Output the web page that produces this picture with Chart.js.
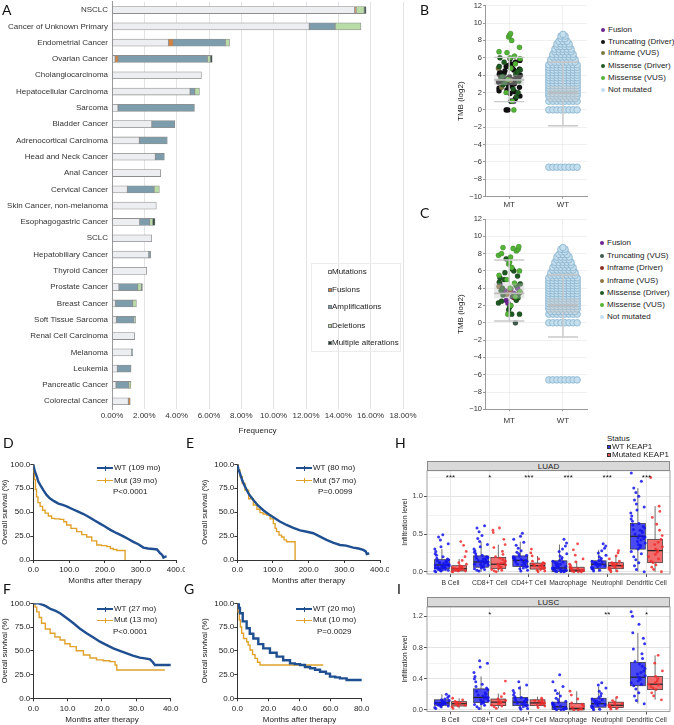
<!DOCTYPE html>
<html lang="en">
<head>
<meta charset="UTF-8">
<title>KEAP1 alterations across cancers</title>
<script src="https://cdn.jsdelivr.net/npm/chart.js"></script>
<style>
  body { margin: 0; background: #fff; }
  #fig { position: relative; width: 674px; height: 725px; overflow: hidden; font-family: "Liberation Sans", Arial, sans-serif; }
  canvas { position: absolute; }
  .tag { position: absolute; font-family: Lato, "Open Sans", sans-serif; font-size: 14px; color: #111; line-height: 1; }
  .lg { position: absolute; font-size: 8px; color: #222; line-height: 1; white-space: nowrap; transform: translateY(-50%); }
  .sw { position: absolute; }
  .strip { position: absolute; background: #d9d9d9; border: 0.8px solid #8a8a8a; box-sizing: border-box;
           font-size: 8px; color: #222; text-align: center; }
</style>
</head>
<body>
<div id="fig"></div>
<script>
// ---- A: alteration frequency by cancer type (%)
const cancerTypes = ['NSCLC', 'Cancer of Unknown Primary', 'Endometrial Cancer', 'Ovarian Cancer', 'Cholangiocarcinoma',
  'Hepatocellular Carcinoma', 'Sarcoma', 'Bladder Cancer', 'Adrenocortical Carcinoma', 'Head and Neck Cancer',
  'Anal Cancer', 'Cervical Cancer', 'Skin Cancer, non-melanoma', 'Esophagogastric Cancer', 'SCLC',
  'Hepatobiliary Cancer', 'Thyroid Cancer', 'Prostate Cancer', 'Breast Cancer', 'Soft Tissue Sarcoma',
  'Renal Cell Carcinoma', 'Melanoma', 'Leukemia', 'Pancreatic Cancer', 'Colorectal Cancer'];
const mutations      = [15.0, 12.2, 3.49, 0.19, 5.53, 4.83, 0.37, 2.46, 1.69, 2.68, 3.01, 0.95, 2.74, 1.71, 2.46, 2.27, 2.15, 0.43, 0.21, 0.27, 1.40, 1.22, 0.33, 0.25, 1.01];
const fusions        = [0.10, 0, 0.29, 0.19, 0, 0, 0, 0, 0, 0, 0, 0, 0, 0, 0, 0, 0, 0, 0, 0, 0, 0, 0, 0, 0.12];
const amplifications = [0, 1.6, 3.24, 5.53, 0, 0.29, 4.73, 1.42, 1.73, 0.56, 0, 1.65, 0, 0.62, 0, 0.12, 0, 1.16, 1.07, 1.09, 0, 0.06, 0.85, 0.78, 0];
const deletions      = [0.50, 1.6, 0.25, 0.17, 0, 0.29, 0, 0, 0, 0, 0, 0.33, 0, 0.19, 0, 0, 0, 0.23, 0.23, 0.10, 0, 0, 0, 0.14, 0];
const multiple       = [0.12, 0, 0, 0.12, 0, 0, 0, 0, 0, 0, 0, 0, 0, 0.14, 0, 0, 0, 0.06, 0, 0, 0, 0, 0, 0, 0];
const altNames = ['Mutations', 'Fusions', 'Amplifications', 'Deletions', 'Multiple alterations'];

// ---- B / C: TMB (log2), MT column by alteration class, WT as rows [value, count]
const mtLabelsB = ['Fusion', 'Truncating (Driver)', 'Inframe (VUS)', 'Missense (Driver)', 'Missense (VUS)'];
const mtValuesB = [
  [4.3, 3.9, 3.2, 1.0, 1.0],
  [0, 0, 1.0, 1.3, 1.6, 1.9, 2.1, 2.3, 2.5, 2.6, 2.8, 2.9, 3.0, 3.1, 3.2, 3.3, 3.4, 3.5, 3.5, 3.6, 3.7, 3.8, 3.9, 4.0, 4.0,
   4.1, 4.2, 4.3, 4.4, 4.5, 4.6, 4.8, 5.0, 5.1, 5.3, 5.5, 5.7, 5.9, 3.0, 3.6, 2.2, 4.7, 3.3, 2.7, 3.8],
  [3.4, 4.8, 2.6],
  [1.5, 2.0, 2.4, 2.9, 3.3, 3.6, 3.9, 4.2, 4.6, 5.0, 5.5, 6.0, 4.4, 3.1],
  [0, 1.0, 2.0, 3.5, 4.8, 5.3, 5.9, 6.0, 6.2, 6.6, 6.7, 7.2, 8.0, 8.4, 8.6, 8.8]
];
const mtLabelsC = ['Fusion', 'Truncating (VUS)', 'Inframe (Driver)', 'Inframe (VUS)', 'Missense (Driver)', 'Missense (VUS)'];
const mtValuesC = [
  [4.5, 4.0, 3.7, 3.4, 3.0, 2.6, 2.3, 3.9],
  [0],
  [3.5, 3.8, 2.9],
  [3.3, 4.2],
  [1.0, 1.0, 1.5, 1.8, 2.0, 2.3, 2.5, 2.6, 2.9, 3.1, 3.2, 3.4, 3.7, 4.0, 4.3, 4.5, 4.7, 5.0, 5.2, 5.4, 5.8, 6.0, 6.2, 7.4],
  [1.0, 2.0, 3.0, 3.6, 4.0, 4.6, 5.0, 5.5, 6.0, 6.4, 6.8, 7.0, 7.6, 7.8, 8.0, 8.3, 8.5, 8.6, 8.7, 8.8]
];
const wtRows = [[-6.6, 8], [0, 8], [1.0, 8], [1.3, 7], [1.6, 8], [1.9, 8], [2.2, 8], [2.5, 8], [2.8, 8], [3.1, 8],
  [3.4, 8], [3.7, 8], [4.0, 8], [4.3, 8], [4.6, 8], [4.9, 8], [5.2, 8], [5.5, 7], [5.8, 7], [6.1, 6], [6.4, 6],
  [6.7, 5], [7.0, 5], [7.3, 4], [7.6, 4], [7.9, 3], [8.2, 2], [8.5, 2], [8.7, 1]];
// box stats [q1, median, q3, low whisker, high whisker]
const tmbBoxB = [[2.85, 3.45, 4.05, 0.95, 6.05], [0.98, 2.0, 2.72, -1.82, 5.52]];
const tmbBoxC = [[2.82, 3.4, 4.56, 0.2, 7.26], [1.09, 2.0, 2.82, -1.65, 5.56]];

// ---- D-G: Kaplan-Meier, months / survival %
const dWtT = [0, 2, 5, 10, 14, 20, 28, 37, 46, 58, 70, 82, 93, 110, 125, 140, 155, 170, 186, 200, 215, 233, 250, 265, 279, 293, 307, 320, 335, 345, 353, 360, 363, 368, 372];
const dWtS = [100, 96, 92, 87, 82, 78, 73, 68, 64.5, 61.5, 59, 57.5, 56, 53, 50.5, 48, 45, 41.5, 38, 35, 31.5, 28, 25, 22, 19, 16.5, 13, 12, 11.5, 11, 7.5, 5, 2.5, 3.5, 3.5];
const dMutT = [0, 1, 3, 6, 9, 13, 19, 26, 33, 42, 51, 60, 74, 85, 93, 105, 121, 135, 149, 163, 177, 190, 205, 215, 223, 233, 256, 256];
const dMutS = [100, 92, 84, 74, 66, 60, 56, 52, 49, 46, 43.5, 43, 42.5, 40, 36.6, 33, 29.6, 26.5, 24, 20, 15.7, 15, 14, 12, 11, 10, 10, 0];
const eWtT = [0, 3, 7.5, 14, 21.5, 32, 45, 58, 73, 87, 101, 118, 138, 157, 176, 195, 213, 232, 250, 270, 288, 305, 325, 340, 353, 360, 363, 370];
const eWtS = [100, 95, 90.6, 83, 76.7, 69, 62.7, 57, 52, 48, 44.6, 40.5, 36.6, 33.5, 31, 29.5, 28, 24.5, 21, 18, 15.7, 15, 13, 12, 10.5, 9, 6.3, 7];
const eMutT = [0, 3, 7.5, 14, 21.5, 32, 45, 55, 63.6, 72, 82, 92, 101, 106, 110, 117, 124, 131, 138, 150, 162, 162];
const eMutS = [100, 94, 87, 80, 73, 64, 57.5, 53, 49.5, 48, 47, 43, 38, 33, 29.6, 26, 24, 21, 19, 19, 19, 0];
const fWtT = [0, 1.5, 3, 3.9, 5, 6.5, 7.8, 9.5, 11.7, 13.5, 15.5, 17.5, 19.4, 21.4, 23.3, 25.2, 27.2, 29, 31, 32.5, 34, 34.8, 35.4, 37, 39.3, 40.3];
const fWtS = [100, 100, 98, 96.5, 94, 92, 89.5, 85, 79, 73.5, 68.4, 64, 59.6, 56, 52.6, 50, 47.4, 45, 42.8, 42, 41, 38, 35, 35, 35, 35];
const fMutT = [0, 0.5, 1, 1.7, 2.4, 3.5, 4.9, 6.3, 7.8, 9.2, 10.7, 12.5, 14.6, 16.5, 18.4, 20.3, 22.3, 23.8, 24.3, 30, 36.9, 38.3];
const fMutS = [100, 96, 91, 85, 79, 73, 68.4, 64.5, 61.4, 57.5, 54.4, 50, 45.6, 42.5, 40.4, 39.5, 38.6, 35, 29.8, 29.8, 29.8, 29.8];
const gWtT = [0, 1, 1.7, 3.5, 6, 8, 10.3, 13.5, 16.7, 21, 25.3, 29.5, 33.9, 37, 40.3, 43.5, 46.8, 50, 53.2, 55.5, 57, 59.6, 63, 66, 70.3, 74, 78.9, 80];
const gWtS = [100, 95, 89.5, 81, 73.7, 68, 63, 57, 52.6, 48, 43.9, 40, 36.8, 36, 35, 33, 31.6, 30, 28, 28, 26, 22.8, 22, 21, 19.3, 19.3, 19.3, 20.5];
const gMutT = [0, 0.5, 1.3, 2, 2.8, 4, 6, 7, 8.2, 9.8, 11.4, 13, 14.6, 30, 45, 55.3];
const gMutS = [100, 91, 82.5, 75, 68.4, 63, 59.6, 56, 50.9, 46, 42, 38, 35, 35, 35, 35];

// ---- H / I: infiltration level (x100) per cell type
const cellTypes = ['B Cell', 'CD8+T Cell', 'CD4+T Cell', 'Macrophage', 'Neutrophil', 'Dendritic Cell'];
const luadWt = [
  [0, 1, 1, 2, 2, 3, 3, 4, 4, 5, 5, 6, 6, 7, 7, 8, 8, 9, 9, 10, 10, 11, 12, 13, 14, 15, 16, 17, 18, 20, 22, 24, 27, 30, 33, 37, 42, 46, 49, 12, 6, 3, 9],
  [1, 2, 3, 4, 5, 6, 7, 8, 9, 10, 11, 12, 13, 13, 14, 15, 16, 17, 18, 19, 20, 21, 22, 24, 26, 28, 30, 33, 36, 40, 44, 48, 53, 58, 61, 10, 14, 17],
  [1, 2, 4, 5, 6, 7, 8, 9, 10, 11, 12, 13, 14, 15, 15, 16, 17, 18, 19, 20, 21, 22, 24, 26, 28, 31, 35, 39, 43, 47, 51, 13, 16],
  [0, 0, 0, 1, 1, 2, 2, 3, 3, 4, 4, 5, 5, 6, 7, 8, 9, 10, 11, 12, 13, 14, 15, 17, 19, 21, 24, 27, 30, 34, 38, 43, 2, 6],
  [1, 2, 3, 4, 5, 6, 7, 8, 9, 10, 10, 11, 12, 13, 14, 15, 16, 18, 20, 22, 25, 28, 31, 34, 37, 9, 12],
  [0, 3, 8, 12, 16, 20, 24, 27, 30, 32, 34, 36, 38, 40, 42, 44, 46, 47, 48, 50, 52, 54, 56, 58, 60, 62, 64, 67, 70, 74, 78, 82, 86, 90, 95, 100, 105, 111, 120, 131, 45, 55, 35]
];
const luadMut = [
  [0, 0, 1, 1, 2, 2, 3, 3, 4, 4, 5, 5, 6, 7, 8, 10, 12, 15, 20, 27, 35, 40],
  [0, 1, 2, 3, 4, 5, 6, 8, 9, 10, 11, 12, 14, 16, 18, 20, 23, 27, 32, 36, 43, 52, 58, 55],
  [0, 1, 2, 3, 4, 5, 6, 7, 8, 8, 9, 10, 11, 12, 14, 17, 21, 25, 30],
  [0, 0, 0, 1, 1, 2, 2, 3, 4, 5, 6, 8, 10, 13, 17, 22, 29, 37],
  [0, 1, 2, 3, 4, 5, 6, 7, 8, 9, 10, 11, 12, 14, 17, 21, 25, 28],
  [0, 3, 6, 9, 12, 14, 17, 20, 23, 26, 28, 30, 33, 36, 39, 43, 48, 55, 63, 72, 80, 87, 125]
];
const luscWt = [
  [2, 3, 4, 5, 6, 6, 7, 7, 8, 8, 9, 9, 10, 10, 11, 12, 13, 14, 16, 18, 20],
  [2, 4, 6, 7, 8, 9, 10, 11, 12, 13, 14, 15, 16, 17, 18, 19, 20, 22, 24, 26, 28, 30, 33, 36, 40, 43, 48, 55, 60, 63],
  [1, 2, 3, 4, 5, 6, 7, 8, 9, 10, 11, 12, 13, 14, 15, 16, 17, 19, 22, 25, 28, 32, 36],
  [0, 0, 1, 1, 2, 2, 3, 4, 5, 6, 7, 8, 9, 10, 11, 13, 15, 18, 21, 25, 30, 36, 45],
  [0, 1, 2, 3, 4, 5, 6, 7, 8, 9, 10, 11, 12, 13, 14, 16, 18, 21, 24, 28, 32, 35],
  [8, 12, 18, 22, 27, 31, 33, 35, 37, 39, 41, 42, 44, 46, 48, 50, 53, 56, 59, 62, 66, 72, 78, 85, 92, 99, 110, 120, 126]
];
const luscMut = [
  [2, 4, 5, 6, 7, 8, 9, 10, 11, 13, 15],
  [2, 4, 5, 6, 8, 9, 10, 11, 12, 14, 17, 21, 37],
  [3, 5, 6, 7, 8, 9, 10, 11, 12, 13, 15],
  [0, 0, 1, 2, 3, 5, 7, 9, 14, 19, 24],
  [1, 2, 3, 4, 5, 6, 7, 8, 10, 12, 16],
  [13, 18, 22, 26, 28, 30, 32, 33, 35, 37, 40, 43, 50, 60, 70]
];
const luadWtBox  = [[.04, .09, .16, 0, .30], [.06, .13, .21, 0, .40], [.07, .15, .21, 0, .40], [0, .05, .145, 0, .36], [.045, .10, .145, 0, .29], [.30, .47, .64, 0, 1.11]];
const luadMutBox = [[.01, .04, .08, 0, .17], [.045, .10, .19, 0, .36], [.035, .08, .115, 0, .21], [0, .02, .06, 0, .14], [.04, .08, .12, 0, .21], [.12, .28, .43, 0, .87]];
const luscWtBox  = [[.06, .09, .13, .02, .20], [.094, .16, .27, 0, .43], [.055, .10, .16, 0, .31], [.005, .04, .10, 0, .24], [.035, .08, .15, 0, .30], [.31, .42, .61, .08, .99]];
const luscMutBox = [[.05, .08, .107, .02, .15], [.055, .10, .14, .02, .21], [.055, .09, .13, .03, .17], [0, .02, .085, 0, .24], [.03, .06, .10, 0, .16], [.26, .33, .43, .13, .70]];
const luadStars = ['***', '*', '***', '***', '***', '***'];
const luscStars = ['', '*', '', '', '**', '*'];

// horizontal jitter offsets (fraction of half-width)
const jitter = [-0.82, 0.35, 0.91, -0.27, 0.6, -0.95, 0.08, 0.74, -0.55, 0.22, -0.12, 0.98, -0.68, 0.47, -0.38, 0.85,
  -0.05, 0.15, -0.88, 0.63, -0.2, 0.41, -0.72, 0.03, 0.55, -0.45, 0.79, -0.9, 0.28, -0.6, 0.12, 0.95];

Chart.defaults.font.family = '"Liberation Sans", Arial, sans-serif';
Chart.defaults.font.size = 8;
Chart.defaults.color = '#222';
Chart.defaults.animation = false;
Chart.defaults.plugins.legend.display = false;
Chart.defaults.plugins.tooltip.enabled = false;

const fig = document.getElementById('fig');
function makeCanvas(x, y, w, h) {
  const c = document.createElement('canvas');
  c.width = w; c.height = h;
  c.style.left = x + 'px'; c.style.top = y + 'px';
  fig.appendChild(c);
  return c;
}
function put(str, x, y, cls, css) {
  const d = document.createElement('div');
  d.className = cls; d.textContent = str;
  d.style.left = x + 'px'; d.style.top = y + 'px';
  if (css) Object.assign(d.style, css);
  fig.appendChild(d);
  return d;
}
function swatch(x, y, w, h, css) {
  const d = document.createElement('div');
  d.className = 'sw';
  Object.assign(d.style, {left: x + 'px', top: y + 'px', width: w + 'px', height: h + 'px'}, css);
  fig.appendChild(d);
}
const fitW = w => s => { s.width = w; s.paddingTop = 0; s.paddingBottom = 0; };
const fitH = h => s => { s.height = h; s.paddingLeft = 0; s.paddingRight = 0; };

// boxes drawn from stats through the chart scales
const boxPlugin = {
  id: 'boxes',
  beforeDatasetsDraw(chart, args, o) { if (!o.front) drawBoxes(chart, o); },
  afterDatasetsDraw(chart, args, o) {
    if (o.front) drawBoxes(chart, o);
    if (o.stars) {
      const {ctx, scales: {x, y}} = chart;
      ctx.save();
      ctx.fillStyle = '#111'; ctx.font = '8px "Liberation Sans", Arial'; ctx.textAlign = 'center'; ctx.textBaseline = 'middle';
      o.stars.forEach((s, i) => ctx.fillText(s, x.getPixelForValue(i + 1), y.getPixelForValue(o.starY)));
      ctx.restore();
    }
    if (o.frame) {
      const a = chart.chartArea, ctx = chart.ctx;
      ctx.save(); ctx.strokeStyle = '#8a8a8a'; ctx.lineWidth = 0.8;
      ctx.strokeRect(a.left, a.top, a.right - a.left, a.bottom - a.top); ctx.restore();
    }
  }
};
function drawBoxes(chart, o) {
  const {ctx, scales: {x, y}} = chart;
  ctx.save();
  o.items.forEach(b => {
    const xc = x.getPixelForValue(b.at);
    const hw = x.getPixelForValue(b.at + o.width / 2) - xc;
    const [q1, med, q3, lo, hi] = b.stats.map(v => y.getPixelForValue(v));
    ctx.strokeStyle = o.line; ctx.lineWidth = o.lineWidth;
    ctx.beginPath();
    ctx.moveTo(xc, q3); ctx.lineTo(xc, hi); ctx.moveTo(xc, q1); ctx.lineTo(xc, lo);
    if (o.caps) { ctx.moveTo(xc - hw, hi); ctx.lineTo(xc + hw, hi); ctx.moveTo(xc - hw, lo); ctx.lineTo(xc + hw, lo); }
    ctx.stroke();
    ctx.fillStyle = b.fill;
    ctx.fillRect(xc - hw, q3, 2 * hw, q1 - q3);
    if (o.outline) ctx.strokeRect(xc - hw, q3, 2 * hw, q1 - q3);
    ctx.strokeStyle = o.median; ctx.lineWidth = o.medianWidth;
    ctx.beginPath(); ctx.moveTo(xc - hw, med); ctx.lineTo(xc + hw, med); ctx.stroke();
  });
  ctx.restore();
}

// ===== Panel A
const altSeries = [mutations, fusions, amplifications, deletions, multiple];
const altColors = ['#eceef1', '#d5833d', '#7d9dac', '#b9dca6', '#1d3a2d'];
new Chart(makeCanvas(0, 0, 425, 440), {
  type: 'bar',
  data: {
    labels: cancerTypes,
    datasets: altSeries.map((d, i) => ({
      label: altNames[i], data: d, backgroundColor: altColors[i],
      borderColor: '#8e8e8e', borderWidth: 0.8, borderSkipped: false, barThickness: 7
    }))
  },
  options: {
    responsive: false, indexAxis: 'y',
    layout: {padding: {top: 1.9, right: 22}},
    scales: {
      x: {
        stacked: true, min: 0, max: 18, afterFit: fitH(30.6),
        ticks: {stepSize: 2, callback: v => v.toFixed(2) + '%', padding: 2, color: '#333', maxRotation: 0},
        grid: {color: '#e3e3e3', drawTicks: false}, border: {display: false},
        title: {display: true, text: 'Frequency', color: '#222', padding: {top: 0, bottom: 4}}
      },
      y: {
        stacked: true, afterFit: fitW(112),
        ticks: {padding: 4, color: '#333', autoSkip: false},
        grid: {display: false, drawTicks: false}, border: {color: '#9a9a9a'}
      }
    }
  }
});
swatch(311, 263, 90, 89, {border: '1px solid #ececec', boxSizing: 'border-box'});
altNames.forEach((n, i) => {
  const yc = [272, 290, 307.3, 326.3, 342.7][i];
  swatch(327.5, yc - 2, 4, 4, {background: altColors[i], border: '0.6px solid #777', boxSizing: 'border-box'});
  put(n, 332, yc, 'lg');
});

// ===== Panels B and C
function tmbChart(canvas, o) {
  let k = 0;
  const mtSets = o.values.map((vals, i) => ({
    label: o.labels[i],
    data: vals.map(v => ({x: 0.21 * jitter[(k++ * 7) % jitter.length], y: v})),
    backgroundColor: o.colors[i], borderColor: 'rgba(0,0,0,0.35)', borderWidth: 0.4, pointRadius: 2.6
  })).reverse();
  const wtPts = wtRows.flatMap(([v, n]) => Array.from({length: n}, (_, j) => ({x: 1 + (j - (n - 1) / 2) * 0.075, y: v})));
  return new Chart(canvas, {
    type: 'scatter',
    data: {datasets: [...mtSets, {label: 'Not mutated', data: wtPts, backgroundColor: '#c4dfee', borderColor: '#86b0cb', borderWidth: 0.8, pointRadius: 3.3}]},
    plugins: [boxPlugin],
    options: {
      responsive: false,
      layout: {padding: {top: o.top, right: 4}},
      plugins: {boxes: {front: true, width: 0.56, caps: true, line: '#c9c9c9', lineWidth: 1.4, median: '#bcbcbc', medianWidth: 1.6,
        items: o.box.map((s, i) => ({at: i, stats: s, fill: 'rgba(200,200,200,0.4)'}))}},
      scales: {
        x: {
          type: 'linear', min: -0.45, max: 1.45, afterFit: fitH(o.xh),
          afterBuildTicks: s => { s.ticks = [{value: 0}, {value: 1}]; },
          ticks: {callback: v => (v === 0 ? 'MT' : 'WT'), padding: o.xpad, color: '#333', font: {size: 8}},
          grid: {color: 'rgba(0,0,0,0.06)', tickLength: 2, tickColor: '#999'}, border: {color: '#9a9a9a'}
        },
        y: {
          min: -10, max: 12, afterFit: fitW(33),
          ticks: {stepSize: 2, padding: 1, color: '#333', font: {size: 7.5}, callback: v => (v < 0 ? '\u2212' + (-v) : String(v))},
          grid: {color: 'rgba(0,0,0,0.06)', tickLength: 2, tickColor: '#999'}, border: {color: '#9a9a9a'},
          title: {display: true, text: 'TMB (log2)', color: '#222', padding: {top: 3.7, bottom: 0}}
        }
      }
    }
  });
}
const colorsB = ['#6a2591', '#111111', '#7d7a45', '#1f5a22', '#52b336'];
const colorsC = ['#6a2591', '#3f5b4d', '#8a2f22', '#8f7440', '#1f5a22', '#52b336'];
tmbChart(makeCanvas(452, 0, 140, 210), {labels: mtLabelsB, values: mtValuesB, colors: colorsB, box: tmbBoxB, top: 5.7, xh: 13.3, xpad: 1});
tmbChart(makeCanvas(452, 210, 140, 220), {labels: mtLabelsC, values: mtValuesC, colors: colorsC, box: tmbBoxC, top: 9, xh: 20.7, xpad: 5});
function tmbLegend(labels, colors, ys, x) {
  labels.concat(['Not mutated']).forEach((n, i) => {
    const c = i < colors.length ? colors[i] : '#c4dfee';
    swatch(x - 7, ys[i] - 2, 4, 4, {background: c, borderRadius: '50%'});
    put(n, x, ys[i], 'lg');
  });
}
tmbLegend(mtLabelsB, colorsB, [30, 42.3, 53.3, 65.7, 78.3, 90], 608);
tmbLegend(mtLabelsC, colorsC, [243.3, 256, 268.3, 280.7, 293, 305.3, 317.3], 607);

// ===== Panels D-G
const wtColor = '#1f4f91', mutColor = '#e0a22b';
const xy = (t, s) => t.map((v, i) => ({x: v, y: s[i]}));
function kmChart(canvas, o) {
  return new Chart(canvas, {
    type: 'line',
    data: {datasets: [
      {label: 'WT', data: xy(o.wt[0], o.wt[1]), borderColor: wtColor, borderWidth: 2.4, pointRadius: 0, stepped: o.wtStep, fill: false},
      {label: 'Mut', data: xy(o.mut[0], o.mut[1]), borderColor: mutColor, borderWidth: 1.4, pointRadius: 0, stepped: true, fill: false}
    ]},
    options: {
      responsive: false,
      layout: {padding: {top: 24.3, right: o.right}},
      scales: {
        x: {
          type: 'linear', min: 0, max: o.xMax, afterFit: fitH(o.xh),
          ticks: {stepSize: o.xStep, callback: v => v.toFixed(1), padding: 2.2, color: '#222', maxRotation: 0},
          grid: {drawOnChartArea: false, tickLength: 3, color: '#333'}, border: {color: '#333'},
          title: {display: true, text: 'Months after therapy', padding: {top: 0, bottom: o.tpb}}
        },
        y: {
          min: 0, max: 100, afterFit: fitW(o.yw),
          ticks: {stepSize: 25, callback: v => v.toFixed(1), padding: 0, color: '#222'},
          grid: {drawOnChartArea: false, tickLength: 3, color: '#333'}, border: {color: '#333'},
          title: {display: true, text: 'Overall survival (%)', font: {size: 7.5}, padding: {top: 0, bottom: 0}}
        }
      }
    }
  });
}
kmChart(makeCanvas(0, 440, 185, 148), {wt: [dWtT, dWtS], mut: [dMutT, dMutS], wtStep: false, xMax: 400, xStep: 100, right: 8.3, xh: 28, yw: 33.3, tpb: 2.5});
kmChart(makeCanvas(200, 440, 189, 148), {wt: [eWtT, eWtS], mut: [eMutT, eMutS], wtStep: false, xMax: 400, xStep: 100, right: 9, xh: 28, yw: 37.3, tpb: 2.5});
kmChart(makeCanvas(0, 579, 185, 146), {wt: [fWtT, fWtS], mut: [fMutT, fMutS], wtStep: false, xMax: 40, xStep: 10, right: 14.3, xh: 26.7, yw: 33.3, tpb: 0.2});
kmChart(makeCanvas(200, 579, 189, 146), {wt: [gWtT, gWtS], mut: [gMutT, gMutS], wtStep: true, xMax: 80, xStep: 20, right: 27.3, xh: 26.7, yw: 37.3, tpb: 0.2});
function kmLegend(x, yWt, yMut, yP, wt, mut, p, px) {
  swatch(x, yWt - 1, 16, 2, {background: wtColor});
  swatch(x + 7.5, yWt - 2.5, 1, 5, {background: wtColor});
  swatch(x, yMut - 0.7, 16, 1.4, {background: mutColor});
  swatch(x + 7.5, yMut - 2.5, 1, 5, {background: mutColor});
  put(wt, x + 17, yWt, 'lg');
  put(mut, x + 17, yMut, 'lg');
  put(p, px, yP, 'lg');
}
kmLegend(97, 468.3, 480.7, 492, 'WT (109 mo)', 'Mut (39 mo)', 'P<0.0001', 113);
kmLegend(296, 468.3, 480.7, 492, 'WT (80 mo)', 'Mut (57 mo)', 'P=0.0099', 318);
kmLegend(97, 609, 620.3, 632, 'WT (27 mo)', 'Mut (13 mo)', 'P<0.0001', 113);
kmLegend(296, 609, 620.3, 632, 'WT (20 mo)', 'Mut (10 mo)', 'P=0.0029', 317);

// ===== Panels H and I
function infChart(left, top, w, h, o) {
  const pts = (groups, side) => groups.flatMap((vals, g) =>
    vals.map((v, k) => ({x: g + 1 + side * 0.22 + 0.19 * jitter[(k * 5 + g * 3) % jitter.length], y: v / 100})));
  const isMajor = v => o.majors.some(m => Math.abs(m - v) < 1e-6);
  const chart = new Chart(makeCanvas(left, top, w, h), {
    type: 'scatter',
    data: {datasets: [
      {label: 'WT KEAP1', data: pts(o.wt, -1), backgroundColor: 'rgba(20,20,235,0.85)', borderWidth: 0, pointRadius: 1.5},
      {label: 'Mutated KEAP1', data: pts(o.mut, 1), backgroundColor: 'rgba(240,45,45,0.85)', borderWidth: 0, pointRadius: 1.4}
    ]},
    plugins: [boxPlugin],
    options: {
      responsive: false,
      layout: {padding: {top: o.top, right: 4}},
      plugins: {boxes: {front: false, width: 0.38, caps: false, outline: true, line: '#333', lineWidth: 0.7, median: '#222', medianWidth: 1.2,
        frame: true, stars: o.stars, starY: o.starY,
        items: o.wtBox.map((s, i) => ({at: i + 1 - 0.22, stats: s, fill: '#4a4af2'}))
          .concat(o.mutBox.map((s, i) => ({at: i + 1 + 0.22, stats: s, fill: '#f26d6d'})))}},
      scales: {
        x: {
          type: 'linear', min: 0.4, max: 6.6, afterFit: fitH(o.xh),
          afterBuildTicks: s => { s.ticks = cellTypes.map((_, i) => ({value: i + 1})); },
          ticks: {callback: v => cellTypes[v - 1] || '', autoSkip: false, maxRotation: 0, padding: 2, color: '#333', font: {size: 6.8}},
          grid: {color: '#e8e8e8', tickLength: 3, tickColor: '#555'}, border: {display: false}
        },
        y: {
          min: o.yMin, max: o.yMax, afterFit: fitW(29),
          afterBuildTicks: s => { s.ticks = o.majors.concat(o.minors).map(v => ({value: v})); },
          ticks: {callback: v => (isMajor(v) ? v.toFixed(1) : ''), padding: 1, color: '#444', font: {size: 7.5}},
          grid: {
            color: c => (c.tick && isMajor(c.tick.value) ? '#e4e4e4' : '#f3f3f3'),
            tickColor: c => (c.tick && isMajor(c.tick.value) ? '#555' : 'rgba(0,0,0,0)'), tickLength: 3
          },
          border: {display: false},
          title: {display: true, text: 'Infiltration level', font: {size: 7}, padding: {top: 2.8, bottom: 0}}
        }
      }
    }
  });
  const a = chart.chartArea;
  put(o.name, left + a.left, top + a.top - 10, 'strip', {width: (a.right - a.left) + 'px', height: '10px', lineHeight: '9px'});
  return chart;
}
infChart(398, 455, 276, 140, {wt: luadWt, mut: luadMut, wtBox: luadWtBox, mutBox: luadMutBox, stars: luadStars, starY: 1.25,
  yMin: -0.03, yMax: 1.34, majors: [0, 0.5, 1.0], minors: [0.25, 0.75, 1.25], top: 15.7, xh: 21, name: 'LUAD'});
infChart(398, 592, 276, 133, {wt: luscWt, mut: luscMut, wtBox: luscWtBox, mutBox: luscMutBox, stars: luscStars, starY: 1.22,
  yMin: -0.02, yMax: 1.32, majors: [0, 0.4, 0.8, 1.2], minors: [0.2, 0.6, 1.0], top: 15, xh: 13.5, name: 'LUSC'});
put('Status', 607, 438.5, 'lg', {fontSize: '8px'});
swatch(607, 444.9, 4, 4, {background: '#3a3ae8', border: '0.6px solid #333', boxSizing: 'border-box'});
put('WT KEAP1', 612, 446.9, 'lg', {fontSize: '8px'});
swatch(607, 452.9, 4, 4, {background: '#e85a5a', border: '0.6px solid #333', boxSizing: 'border-box'});
put('Mutated KEAP1', 612, 454.9, 'lg', {fontSize: '8px'});

// panel letters
[['A', 2, 3], ['B', 420, 3], ['C', 420, 206], ['D', 3, 436], ['E', 186, 436], ['H', 395, 436],
 ['F', 3, 582], ['G', 184, 582], ['I', 397, 582]].forEach(([t, x, y]) => put(t, x, y, 'tag'));
</script>
</body>
</html>
